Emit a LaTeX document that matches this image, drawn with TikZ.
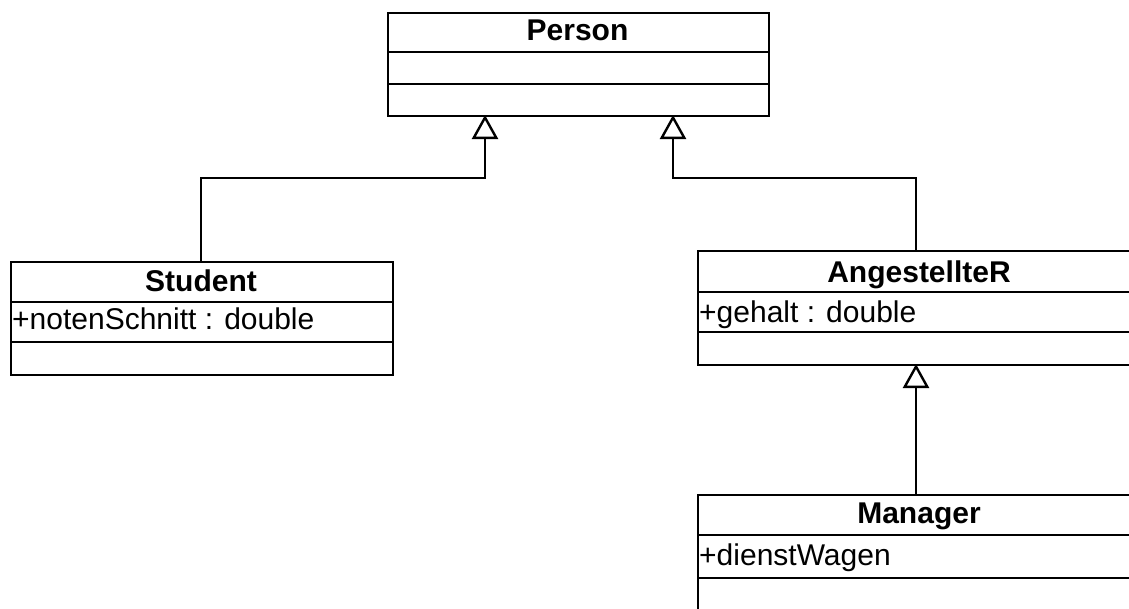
\documentclass[tikz,border=0pt]{standalone}
\usepackage{fontspec}
\setmainfont{Liberation Sans}
\usetikzlibrary{arrows.meta}
\begin{document}
\begin{tikzpicture}[x=1pt,y=-1pt,line width=2.4pt,
  classbox/.style={draw, rectangle, inner sep=0pt, anchor=north west},
  namelbl/.style={inner sep=0pt, anchor=base, font=\fontsize{30}{36}\selectfont\bfseries},
  attrlbl/.style={inner sep=0pt, anchor=base west, font=\fontsize{30}{36}\selectfont},
  gen/.style={-{Triangle[open,length=24pt,width=26pt]}}]
\useasboundingbox (0,0) rectangle (1129,608);
\clip (0,0) rectangle (1129,608);
% Person
\node[classbox, minimum width=381pt, minimum height=103pt] (person) at (387,12) {};
\draw (387,52) -- (768,52);
\draw (387,84) -- (768,84);
\node[namelbl] (personname) at (577.5,40) {Person};
% Student
\node[classbox, minimum width=382pt, minimum height=113pt] (student) at (10,261) {};
\draw (10,302) -- (392,302);
\draw (10,342) -- (392,342);
\node[namelbl] (studentname) at (201,291) {Student};
\node[attrlbl] (studentattr) at (11,329) {+notenSchnitt : double};
% AngestellteR
\node[classbox, minimum width=444pt, minimum height=114pt] (ang) at (697,250) {};
\draw (697,292) -- (1141,292);
\draw (697,332) -- (1141,332);
\node[namelbl] (angname) at (919,282) {AngestellteR};
\node[attrlbl] (angattr) at (698,322) {+gehalt : double};
% Manager
\node[classbox, minimum width=444pt, minimum height=130pt] (mgr) at (697,494) {};
\draw (697,535) -- (1141,535);
\draw (697,578) -- (1141,578);
\node[namelbl] (mgrname) at (919,523) {Manager};
\node[attrlbl] (mgrattr) at (698,565) {+dienstWagen};
% connector points
\coordinate (pl) at (485,115);
\coordinate (pr) at (673,115);
\coordinate (sn) at (201,261);
\coordinate (an) at (916,250);
\coordinate (as) at (916,364);
\coordinate (mn) at (916,494);
% connectors
\draw[gen] (sn) |- (485,178) -- (pl);
\draw[gen] (an) |- (673,178) -- (pr);
\draw[gen] (mn) -- (as);
\end{tikzpicture}
\end{document}
